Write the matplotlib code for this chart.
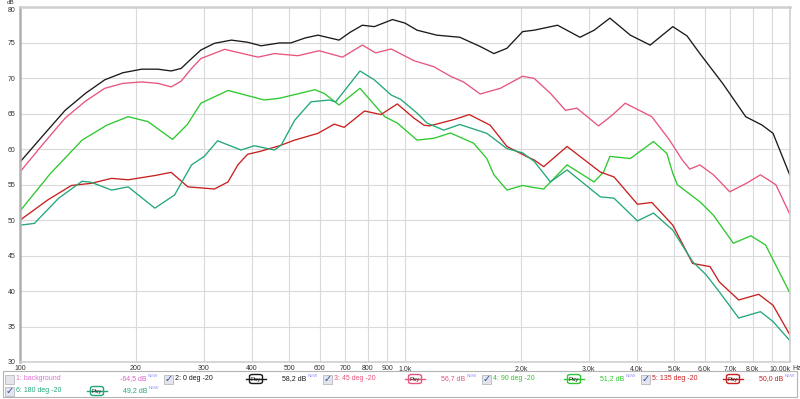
import numpy as np
import matplotlib
matplotlib.use("Agg")
import matplotlib.pyplot as plt
from matplotlib.patches import Rectangle, FancyBboxPatch

plt.rcParams["font.family"] = ["Liberation Sans", "DejaVu Sans"]

# ---- datos (frecuencia Hz, nivel dB) ----
f_0deg = [100, 115, 131, 148, 166, 185, 207, 228, 247, 262, 279, 295, 320, 354, 390, 423,
          472, 505, 550, 594, 674, 720, 775, 832, 928, 1000, 1075, 1209, 1388, 1568, 1702,
          1840, 2021, 2165, 2490, 2848, 3100, 3406, 3848, 4333, 4961, 5400, 5834, 6684,
          7673, 8470, 9036, 10000]
db_0deg = [58.2, 62.0, 65.5, 67.9, 69.8, 70.8, 71.3, 71.3, 71.05, 71.4, 72.8, 74.0, 74.95,
           75.4, 75.1, 74.6, 75.0, 75.0, 75.7, 76.1, 75.4, 76.5, 77.5, 77.3, 78.3, 77.8,
           76.8, 76.1, 75.8, 74.5, 73.5, 74.25, 76.6, 76.8, 77.5, 75.8, 76.8, 78.5, 76.1,
           74.7, 77.3, 76.0, 73.5, 69.3, 64.6, 63.4, 62.25, 56.3]

f_45deg = [100, 115, 131, 148, 166, 185, 207, 228, 247, 262, 279, 295, 340, 415, 458, 527,
           598, 688, 775, 839, 921, 1055, 1188, 1313, 1419, 1568, 1768, 2020, 2165, 2386,
           2611, 2796, 3182, 3450, 3732, 4376, 4865, 5250, 5490, 5834, 6326, 6975, 7700,
           8380, 9189, 10000]
db_45deg = [56.8, 60.8, 64.4, 66.8, 68.6, 69.3, 69.5, 69.3, 68.8, 69.6, 71.4, 72.8, 74.1,
            73.0, 73.5, 73.2, 73.9, 73.0, 74.7, 73.6, 74.15, 72.5, 71.65, 70.3, 69.5, 67.8,
            68.6, 70.3, 70.0, 67.9, 65.5, 65.8, 63.3, 64.8, 66.5, 64.6, 61.3, 58.5, 57.2,
            57.8, 56.4, 54.0, 55.2, 56.4, 55.0, 50.8]

f_90deg = [100, 120, 145, 168, 191, 215, 249, 272, 295, 347, 431, 472, 583, 616, 674, 764,
           886, 955, 1075, 1188, 1313, 1508, 1631, 1702, 1840, 2020, 2165, 2292, 2636, 3098,
           3280, 3406, 3848, 4420, 4790, 4961, 5100, 5834, 6326, 7127, 7914, 8642, 10000]
db_90deg = [51.3, 56.6, 61.3, 63.4, 64.6, 63.9, 61.4, 63.5, 66.5, 68.3, 66.95, 67.2, 68.4,
            67.9, 66.25, 68.6, 64.6, 63.7, 61.3, 61.55, 62.3, 60.85, 58.7, 56.4, 54.25,
            54.9, 54.6, 54.4, 57.8, 55.4, 56.8, 59.0, 58.7, 61.1, 59.4, 56.6, 55.0, 52.6,
            50.7, 46.75, 47.8, 46.5, 39.7]

f_135deg = [100, 118, 136, 153, 173, 191, 224, 247, 273, 320, 347, 368, 390, 420, 472, 517,
            594, 655, 695, 785, 866, 955, 1055, 1120, 1158, 1342, 1469, 1664, 1840, 2076,
            2165, 2292, 2636, 3214, 3491, 4016, 4376, 4961, 5586, 6200, 6551, 7358, 8292,
            9036, 10000]
db_135deg = [50.0, 52.85, 54.9, 55.2, 55.9, 55.7, 56.3, 56.75, 54.7, 54.4, 55.4, 57.8,
             59.3, 59.7, 60.5, 61.3, 62.25, 63.55, 63.1, 65.4, 64.9, 66.4, 64.4, 63.4, 63.3,
             64.2, 64.9, 63.4, 60.4, 58.95, 58.5, 57.55, 60.4, 56.8, 56.1, 52.25, 52.5, 49.3,
             43.9, 43.45, 41.3, 38.75, 39.55, 38.0, 33.8]

f_180deg = [100, 109, 126, 145, 153, 173, 191, 224, 252, 279, 301, 326, 375, 406, 458, 477,
            517, 570, 635, 661, 764, 832, 921, 974, 1075, 1141, 1261, 1388, 1631, 1840, 2020,
            2165, 2386, 2636, 3214, 3491, 4016, 4420, 4961, 5586, 6055, 6551, 7358, 8380,
            9036, 10000]
db_180deg = [49.3, 49.55, 53.1, 55.5, 55.35, 54.25, 54.7, 51.7, 53.55, 57.8, 59.0, 61.2,
             59.9, 60.5, 59.9, 60.6, 64.1, 66.7, 66.95, 66.7, 71.05, 69.8, 67.65, 67.05,
             65.1, 63.7, 62.7, 63.5, 62.25, 60.1, 59.5, 58.3, 55.4, 57.1, 53.3, 53.1, 49.9,
             51.0, 48.6, 44.15, 42.3, 39.9, 36.2, 37.1, 35.7, 33.0]

xticks = [100, 200, 300, 400, 500, 600, 700, 800, 900, 1000, 2000, 3000, 4000, 5000,
          6000, 7000, 8000, 9000, 10000]
xlabels = ["100", "200", "300", "400", "500", "600", "700", "800", "900", "1,0k", "2,0k",
           "3,0k", "4,0k", "5,0k", "6,0k", "7,0k", "8,0k", "", "10,00k"]
yticks = [30, 35, 40, 45, 50, 55, 60, 65, 70, 75, 80]

series = [
    ("2: 0 deg -20", "58,2 dB", "#1a1a1a", f_0deg, db_0deg),
    ("3: 45 deg -20", "56,7 dB", "#e8557c", f_45deg, db_45deg),
    ("4: 90 deg -20", "51,2 dB", "#2ec82e", f_90deg, db_90deg),
    ("5: 135 deg -20", "50,0 dB", "#c82020", f_135deg, db_135deg),
    ("6: 180 deg -20", "49,2 dB", "#22a878", f_180deg, db_180deg),
]

W, H = 800, 399
fig = plt.figure(figsize=(8, 3.99), dpi=100)
fig.patch.set_facecolor("white")
ax = fig.add_axes([20 / W, 1 - 362 / H, 770 / W, (362 - 7.5) / H])

for nombre, nivel, color, f, db in series:
    ax.plot(f, db, color=color, lw=0.95)

ax.set_xscale("log")
ax.set_xlim(100, 10000)
ax.set_ylim(30, 80)
ax.set_xticks(xticks)
ax.set_xticklabels(xlabels)
ax.xaxis.set_minor_locator(matplotlib.ticker.NullLocator())
ax.set_yticks(yticks)
ax.set_yticklabels([str(v) for v in yticks])
ax.tick_params(axis="both", length=0, labelsize=5, colors="#333333")
ax.tick_params(axis="x", pad=2)
ax.tick_params(axis="y", pad=3)
ax.get_xticklabels()[-1].set_ha("right")
ax.get_yticklabels()[-1].set_va("top")
ax.grid(True, color="#dadada", lw=0.8)
ax.set_axisbelow(True)
for lado in ["top", "right", "bottom"]:
    ax.spines[lado].set_color("#cfcfcf")
    ax.spines[lado].set_linewidth(1.2)
ax.spines["top"].set_linewidth(1.8)
ax.spines["left"].set_color("#b0b0b0")
ax.spines["left"].set_linewidth(1.8)

fig.text(11 / W, 1 - 0.5 / H, "dB", fontsize=4.5, color="#333333", ha="center", va="top")
fig.text(792 / W, 1 - 368.5 / H, "Hz", fontsize=5, color="#333333", ha="left", va="center")

# ---- leyenda inferior ----
fig.patches.append(Rectangle((3 / W, 1 - 397 / H), 794 / W, 26 / H, transform=fig.transFigure,
                             fill=False, edgecolor="#b4b4b4", lw=0.8))
renderer = fig.canvas.get_renderer()


def checkbox(x, y, marcado):
    fig.patches.append(Rectangle((x / W, 1 - (y + 4.5) / H), 9 / W, 9 / H,
                                 transform=fig.transFigure, facecolor="#e4e4ea",
                                 edgecolor="#b8b8c0", lw=0.6))
    if marcado:
        fig.text((x + 4.5) / W, 1 - y / H, "\u2713", fontsize=7, color="#2050a0",
                 family="DejaVu Sans", ha="center", va="center")


def psy(x, y, color):
    fig.add_artist(plt.Line2D([x / W, (x + 20) / W], [1 - y / H, 1 - y / H],
                              transform=fig.transFigure, color=color, lw=1.0))
    fig.patches.append(FancyBboxPatch(((x + 3.5) / W, 1 - (y + 4.5) / H), 13 / W, 9 / H,
                                      boxstyle="round,pad=0,rounding_size=0.004",
                                      transform=fig.transFigure, facecolor="white",
                                      edgecolor=color, lw=1.0))
    fig.text((x + 10) / W, 1 - y / H, "Psy", fontsize=4.5, color="#222222",
             ha="center", va="center")


def valor(x, y, texto, color):
    t = fig.text(x / W, 1 - y / H, texto, fontsize=fs, color=color, ha="left", va="center")
    bb = t.get_window_extent(renderer=renderer)
    fig.text((bb.x1 + 1) / W, 1 - (y - 3) / H, "NEW", fontsize=3.2, color="#8a8aff",
             ha="left", va="center")


fs = 5
y1, y2 = 379, 391
checkbox(5, y1, False)
fig.text(16 / W, 1 - y1 / H, "1: background", fontsize=fs, color="#e070d0", va="center")
valor(120, y1, "-64,5 dB", "#d860c8")

pos = [(164, y1), (323, y1), (482, y1), (641, y1), (5, y2)]
for (nombre, nivel, color, f, db), (x, y) in zip(series, pos):
    checkbox(x, y, True)
    fig.text((x + 11) / W, 1 - y / H, nombre, fontsize=fs, color=color, va="center")
    psy(x + 82, y, color)
    valor(x + 118, y, nivel, color)

fig.savefig("out.png", dpi=100)
